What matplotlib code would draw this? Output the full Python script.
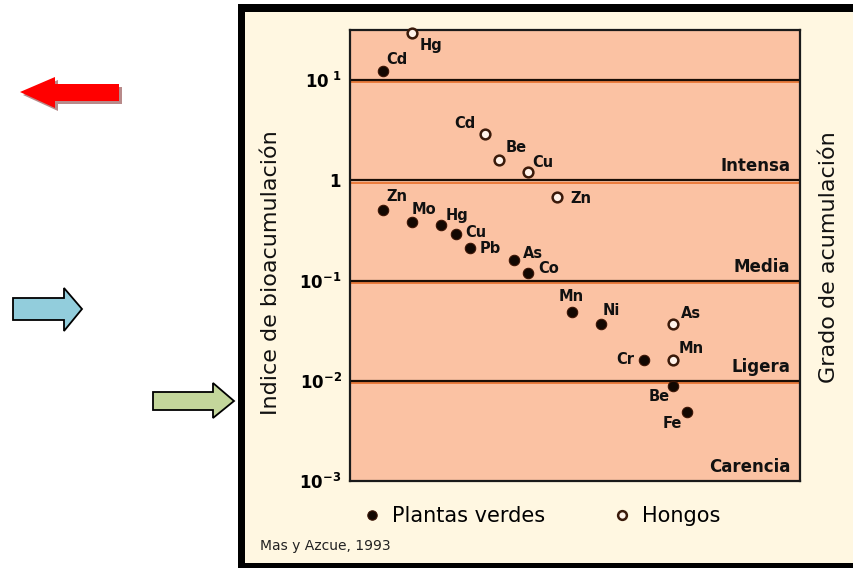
import numpy as np
import matplotlib
matplotlib.use("Agg")
import matplotlib.pyplot as plt
from matplotlib.patches import Polygon, Rectangle
from matplotlib.transforms import ScaledTranslation

W, H = 854, 568

# Plantas verdes (filled dots): element, rank on x, bioaccumulation index
plant_elem = ["Cd", "Zn", "Mo", "Hg", "Cu", "Pb", "As", "Co", "Mn", "Ni", "Cr", "Be", "Fe"]
plant_x = [0, 0, 2, 4, 5, 6, 9, 10, 13, 15, 18, 20, 21]
plant_y = [12.3, 0.51, 0.38, 0.36, 0.29, 0.21, 0.16, 0.12, 0.049, 0.037, 0.016, 0.0089, 0.0049]

# Hongos (open circles)
fungi_elem = ["Hg", "Cd", "Be", "Cu", "Zn", "As", "Mn"]
fungi_x = [2, 7, 8, 10, 12, 20, 20]
fungi_y = [29.5, 2.9, 1.6, 1.2, 0.68, 0.037, 0.016]

zones = ["Intensa", "Media", "Ligera", "Carencia"]
zone_decades = [0, -1, -2, -3]
yticks = [10, 1, 0.1, 0.01, 0.001]
ytick_labels = [r"$\mathbf{10^{\ 1}}$", r"$\mathbf{1}$", r"$\mathbf{10^{-1}}$",
                r"$\mathbf{10^{-2}}$", r"$\mathbf{10^{-3}}$"]

# label offsets in pixels (dx, dy), style only
plant_off = [(14, 12), (14, 13), (12, 13), (16, 9), (20, 2), (20, 0), (19, 7),
             (21, 4), (0, 15), (11, 13), (-19, 1), (-14, -11), (-15, -12)]
fungi_off = [(19, -12), (-20, 10), (17, 12), (15, 10), (24, -1), (18, 10), (18, 12)]

SALMON = "#fbc2a3"
CREAM = "#fff7e1"


def px(x, y):
    return (x / W, 1 - y / H)


fig = plt.figure(figsize=(W / 100, H / 100), dpi=100, facecolor="white")

# black frame of the pasted picture
fig.add_artist(Rectangle(px(238, 568), 700 / W, 564 / H, transform=fig.transFigure,
                         facecolor="black", edgecolor="none", zorder=-3))
fig.add_artist(Rectangle(px(245, 563), 700 / W, 551 / H, transform=fig.transFigure,
                         facecolor=CREAM, edgecolor="none", zorder=-2))

# slide arrows
red = [(20, 92), (55, 77), (55, 84), (119, 84), (119, 101), (55, 101), (55, 108)]
blue = [(13, 298), (64, 298), (64, 288), (82, 309), (64, 331), (64, 320), (13, 320)]
green = [(153, 392), (213, 392), (213, 383), (234, 401), (213, 418), (213, 410), (153, 410)]
fig.add_artist(Polygon([px(x + 3, y + 3) for x, y in red], closed=True,
                       transform=fig.transFigure, facecolor="#b88a8a", edgecolor="none"))
fig.add_artist(Polygon([px(x, y) for x, y in red], closed=True,
                       transform=fig.transFigure, facecolor="#ff0000", edgecolor="none"))
fig.add_artist(Polygon([px(x, y) for x, y in blue], closed=True,
                       transform=fig.transFigure, facecolor="#92cddc", edgecolor="black", lw=1.3))
fig.add_artist(Polygon([px(x, y) for x, y in green], closed=True,
                       transform=fig.transFigure, facecolor="#c3d69b", edgecolor="black", lw=1.3))

ax = fig.add_axes([350 / W, 1 - 481 / H, 450 / W, 451 / H])
ax.set_facecolor(SALMON)
ax.set_yscale("log")
ax.set_ylim(1e-3, 10 ** 1.5)
ax.set_xlim(-2.28, 28.76)
ax.set_xticks([])
ax.set_yticks(yticks)
ax.set_yticklabels(ytick_labels)
ax.yaxis.set_minor_locator(matplotlib.ticker.NullLocator())
ax.tick_params(axis="y", length=0, pad=6, labelsize=12)
for s in ax.spines.values():
    s.set_color("#1a1a1a")
    s.set_linewidth(1.6)

# decade lines with orange fringe
shift = ScaledTranslation(0, -1.6 / 72, fig.dpi_scale_trans)
for k in [1, 0, -1, -2]:
    ax.plot([0, 1], [10 ** k] * 2, color="#e8702a", lw=1.2,
            transform=ax.get_yaxis_transform() + shift, zorder=1)
    ax.axhline(10 ** k, color="#1a0d05", lw=1.6, zorder=2)

ax.plot(plant_x, plant_y, "o", ms=7.5, color="#120802", mec="#3a1405", mew=0.8,
        zorder=5, clip_on=False, label="Plantas verdes")
ax.plot(fungi_x, fungi_y, "o", ms=7, mfc="#fff3ea", mec="#3a1a0a", mew=1.8,
        zorder=5, clip_on=False, label="Hongos")

for e, x, y, (dx, dy) in zip(plant_elem, plant_x, plant_y, plant_off):
    ax.annotate(e, (x, y), xytext=(dx, dy), textcoords="offset pixels",
                ha="center", va="center", fontsize=10.5, fontweight="bold", color="#111111")
for e, x, y, (dx, dy) in zip(fungi_elem, fungi_x, fungi_y, fungi_off):
    ax.annotate(e, (x, y), xytext=(dx, dy), textcoords="offset pixels",
                ha="center", va="center", fontsize=10.5, fontweight="bold", color="#111111")

for z, k in zip(zones, zone_decades):
    ax.text(0.978, 10 ** (k + 0.14), z, transform=ax.get_yaxis_transform(),
            ha="right", va="center", fontsize=12, fontweight="bold", color="#111111")

fig.text(*px(271, 273), "Indice de bioacumulación", rotation=90, ha="center", va="center",
         fontsize=16, color="#111111")
fig.text(*px(829, 257), "Grado de acumulación", rotation=90, ha="center", va="center",
         fontsize=16, color="#111111")

handles, labels = ax.get_legend_handles_labels()
fig.legend(handles, labels, loc="center left", bbox_to_anchor=px(361.6, 516),
           bbox_transform=fig.transFigure, ncol=2, frameon=False, handlelength=1,
           handletextpad=0.46, columnspacing=3.2, borderpad=0, borderaxespad=0,
           fontsize=15, markerscale=0.9)

fig.text(*px(260, 546), "Mas y Azcue, 1993", ha="left", va="center", fontsize=10, color="#222222")

fig.savefig("out.png", dpi=100)
